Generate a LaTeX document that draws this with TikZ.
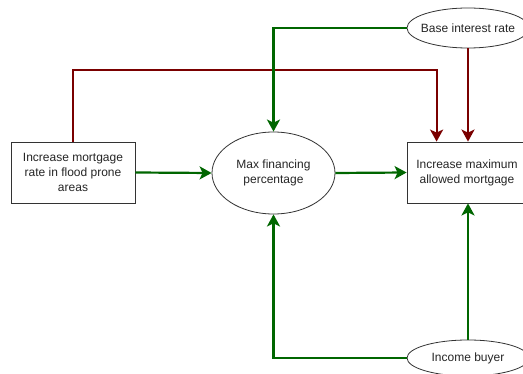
\documentclass[tikz,border=0pt]{standalone}
\usepackage{fontspec}
\setmainfont{Liberation Sans}
\usetikzlibrary{shapes.geometric,arrows.meta}
\definecolor{linkgreen}{HTML}{006600}
\definecolor{linkred}{HTML}{7A0000}
\definecolor{outline}{HTML}{333333}
\begin{document}
\begin{tikzpicture}[x=1pt,y=-1pt,
  every node/.style={font=\fontsize{12}{15}\selectfont, text=black!85, inner sep=0pt, align=center},
  boxnode/.style={draw=outline, line width=0.8pt, fill=white, minimum width=124pt, minimum height=61pt},
  ovalnode/.style={draw=outline, line width=0.8pt, fill=white, ellipse, inner xsep=-8pt},
  link/.style={line width=2.2pt, -{Stealth[length=12pt,width=13pt,inset=3pt]}},
  poslink/.style={linkgreen, link},
  neglink/.style={linkred, link}]
\useasboundingbox (0,0) rectangle (523,374);

\node[boxnode] (lbox) at (73,172.5) {Increase mortgage\\rate in flood prone\\areas};
\node[ovalnode, minimum width=123pt, minimum height=82pt] (mfp) at (273.5,173) {Max financing\\percentage};
\node[boxnode, minimum width=120pt] (rbox) at (467,172.5) {Increase maximum\\allowed mortgage};
\node[ovalnode, minimum width=122pt, minimum height=40pt] (base) at (468,28) {Base interest rate};
\node[ovalnode, minimum width=122pt, minimum height=36pt] (inc) at (468,358) {Income buyer};

\coordinate (redtop) at (0,70);

% dark red feedback lines into the mortgage box
\draw[neglink] (lbox.north) -- (lbox.north |- redtop) -| ([xshift=30pt]rbox.north west);
\draw[neglink] (base.south) -- (base.south |- rbox.north);

% green influence lines
\draw[poslink] (base.west) -| (mfp.north);
\draw[poslink] (lbox.east) -- (mfp.west);
\draw[poslink] (mfp.east) -- (rbox.west);
\draw[poslink] (inc.west) -| (mfp.south);
\draw[poslink] (inc.north) -- (inc.north |- rbox.south);
\end{tikzpicture}
\end{document}
